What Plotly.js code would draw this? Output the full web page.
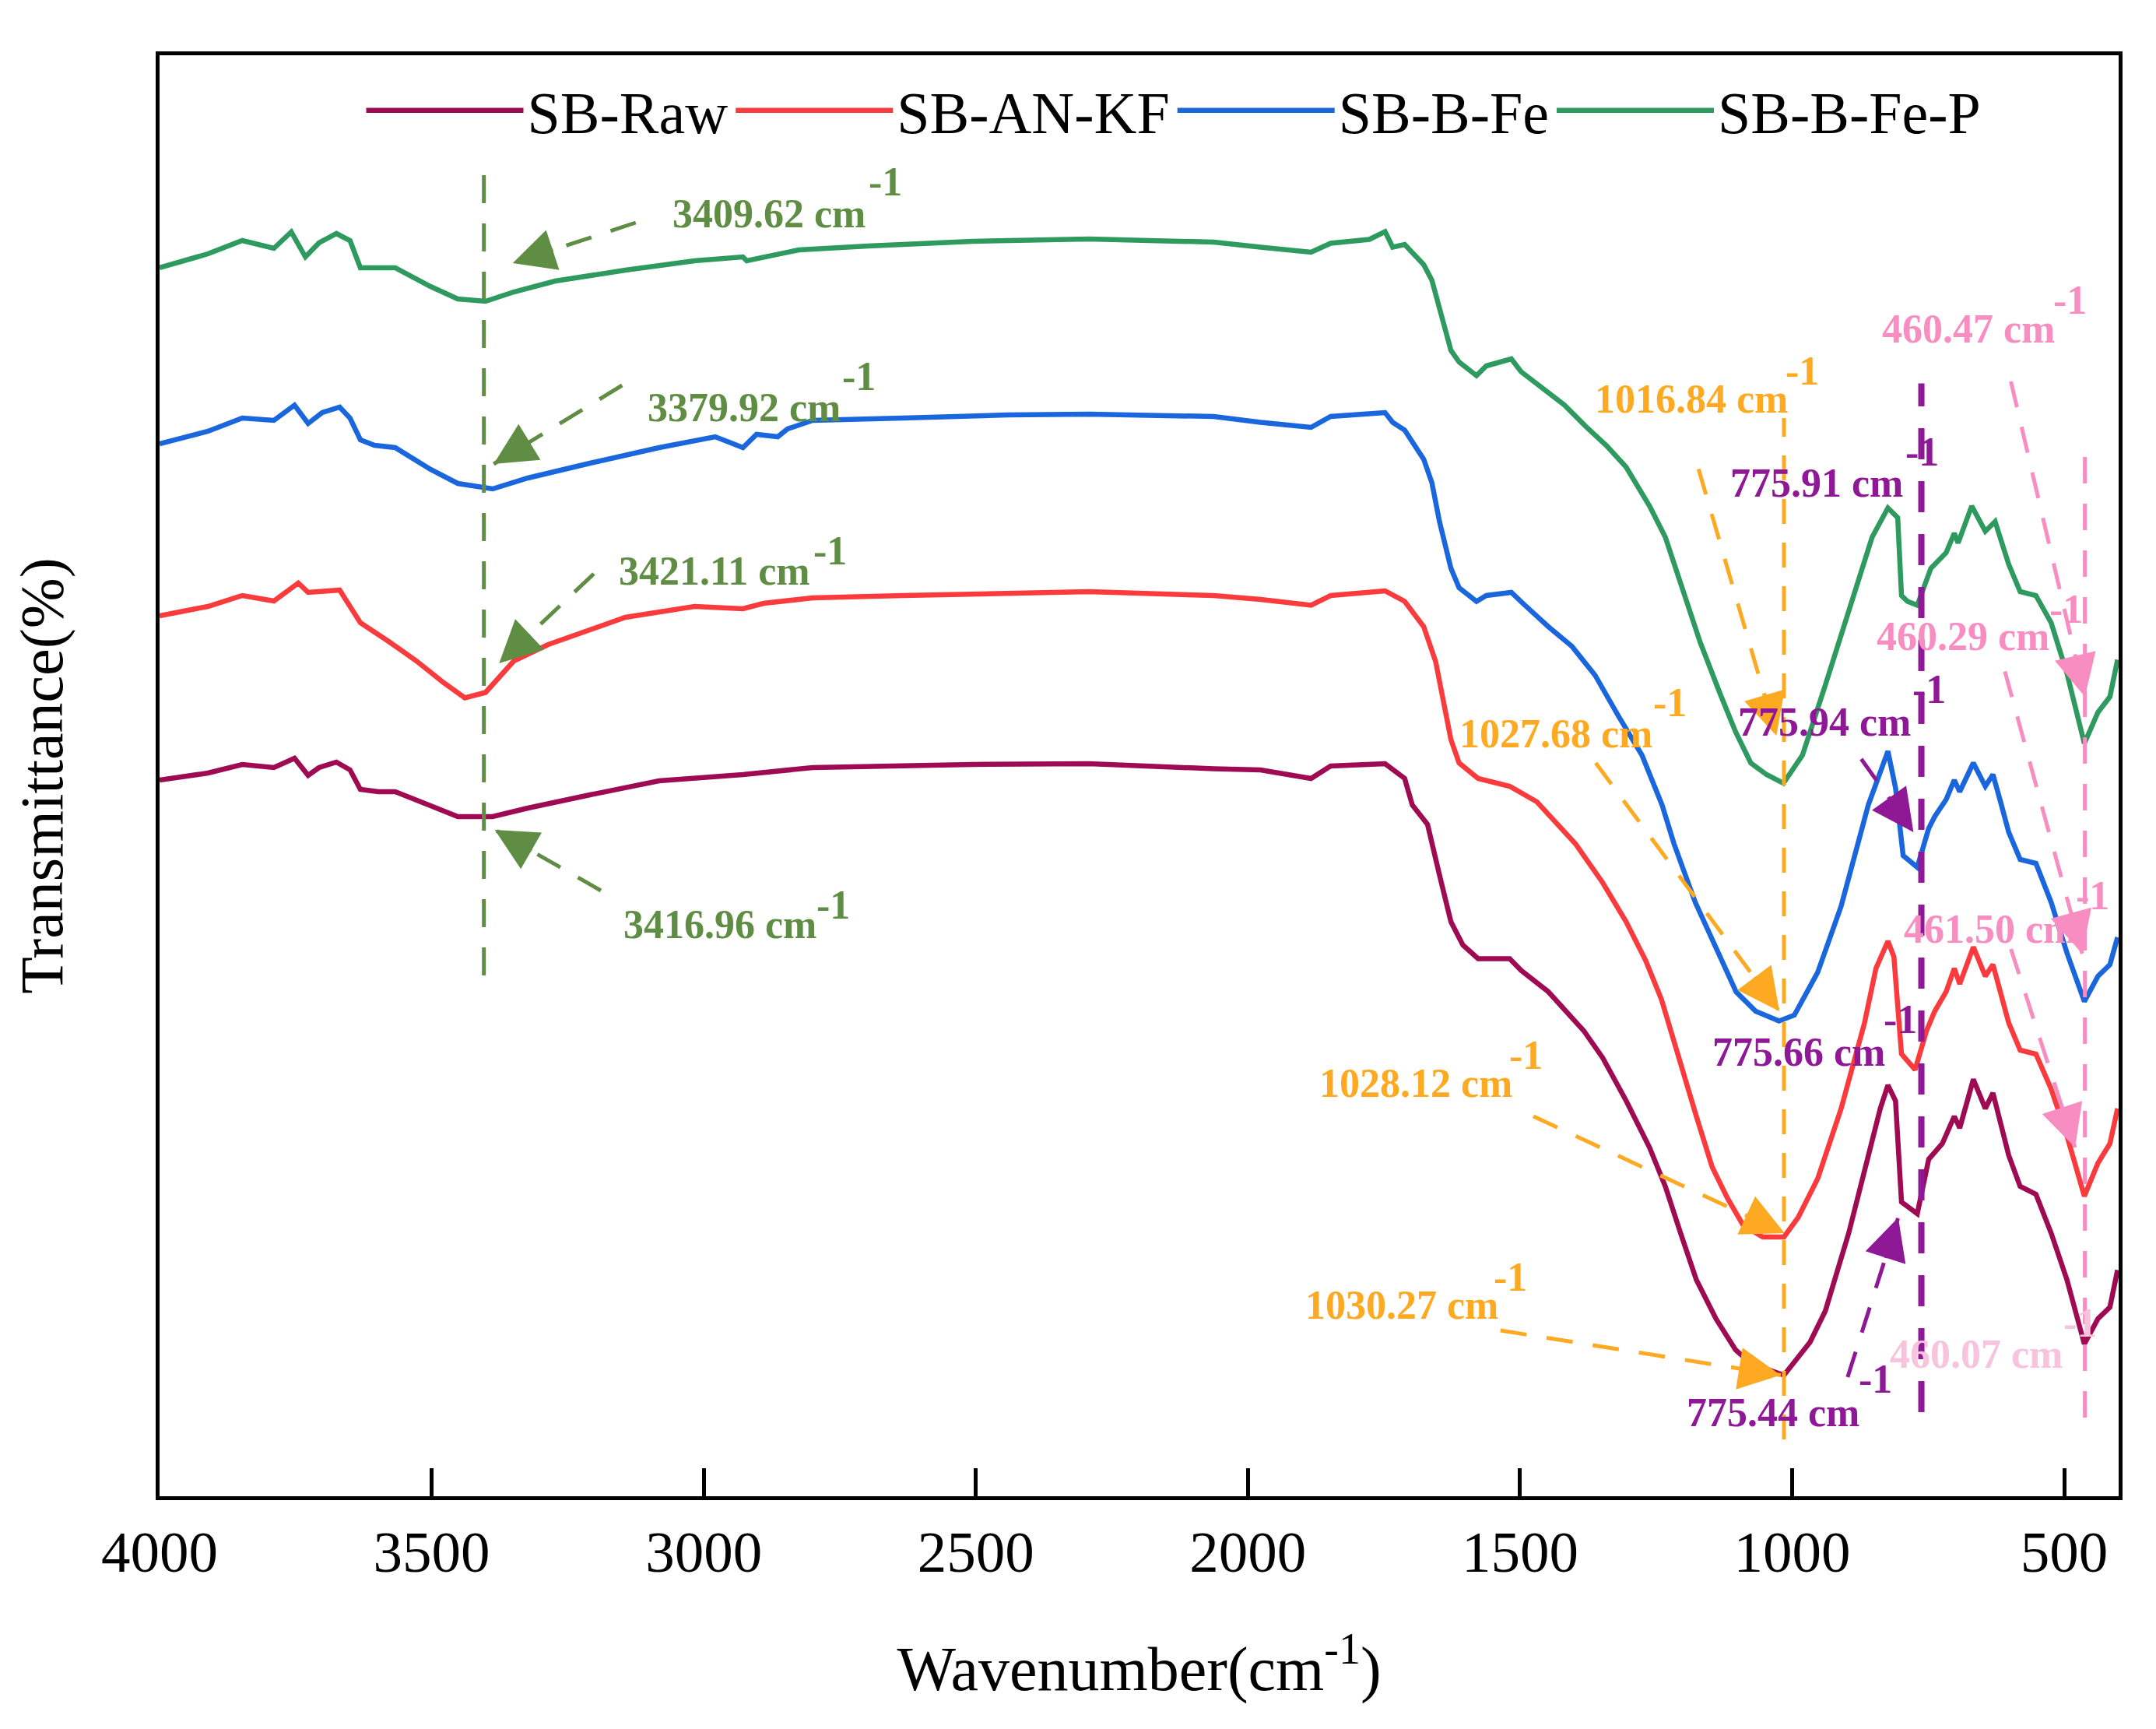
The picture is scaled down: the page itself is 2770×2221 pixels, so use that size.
<!DOCTYPE html>
<html><head><meta charset="utf-8">
<script src="https://cdn.plot.ly/plotly-3.0.1.min.js"></script>
<style>html,body{margin:0;padding:0;background:#fff;}#chart{width:2770px;height:2221px;}</style>
</head><body><div id="chart"></div>
<script>
// ---------------- DATA ----------------
const seriesNames = ['SB-Raw', 'SB-AN-KF', 'SB-B-Fe', 'SB-B-Fe-P'];
const xTicks = [4000, 3500, 3000, 2500, 2000, 1500, 1000, 500];

const rawWn = [4000,3911,3848,3790,3752,3727,3707,3675,3650,3631,3598,3567,3502,3452,3388,3323,3209,3082,2928,2800,2506,2292,2063,1977,1884,1848,1748,1712,1698,1670,1648,1627,1605,1577,1519,1498,1448,1383,1348,1305,1262,1233,1205,1176,1140,1104,1076,1015,967,939,896,860,838,824,810,799,770,749,724,702,692,667,645,631,602,581,552,524,495,463,438,416,402];
const rawT  = [92.0,92.9,94.0,93.6,94.8,92.6,93.6,94.3,93.3,90.8,90.5,90.5,88.7,87.3,87.3,88.4,90.1,91.9,92.7,93.6,94.0,94.1,93.45,93.3,92.2,93.8,94.1,92.2,88.8,86.3,79.8,73.8,70.8,69.05,69.05,67.55,64.8,59.8,56.3,50.8,44.8,39.8,33.8,27.8,22.8,18.8,17.05,15.55,19.8,23.8,33.8,43.8,49.8,52.8,50.8,37.8,36.3,43.3,45.3,48.8,47.3,53.55,49.8,51.8,43.8,39.8,38.8,33.8,27.8,19.55,22.8,24.3,29.05];

const ankfWn = [4000,3911,3848,3790,3745,3727,3669,3650,3631,3579,3528,3478,3439,3401,3349,3286,3144,3017,2928,2890,2800,2634,2292,2063,1977,1884,1848,1748,1712,1677,1655,1641,1627,1612,1577,1519,1469,1398,1348,1305,1269,1240,1219,1197,1176,1147,1119,1090,1054,1015,989,953,910,867,846,824,813,799,774,753,738,717,702,692,667,645,631,602,581,552,524,495,463,438,416,402];
const ankfT  = [113.1,114.3,115.7,115.0,117.3,116.1,116.4,114.3,112.2,109.8,107.3,104.5,102.55,103.25,107.3,109.4,112.9,114.3,114.0,114.7,115.4,115.7,116.2,115.7,115.2,114.45,115.7,116.3,114.95,111.7,107.2,102.2,97.2,94.2,92.2,91.2,89.2,83.8,78.8,73.8,68.8,63.8,58.8,53.8,48.8,42.3,38.3,34.8,33.3,33.3,35.8,40.8,49.8,60.8,67.8,71.3,69.3,56.8,54.8,59.8,62.3,64.8,67.8,65.8,70.55,66.8,68.3,60.8,57.3,56.8,52.3,46.3,38.55,42.8,45.3,49.8];

const bfeWn = [4000,3911,3848,3790,3752,3727,3701,3669,3650,3631,3605,3567,3502,3452,3388,3323,3209,3082,2979,2928,2903,2864,2846,2800,2634,2442,2292,2063,1977,1884,1848,1770,1748,1734,1712,1677,1662,1648,1627,1612,1580,1562,1516,1491,1448,1405,1362,1319,1276,1239,1217,1178,1146,1103,1067,1024,996,953,910,874,860,824,810,796,770,749,738,717,702,692,667,645,631,617,602,581,552,524,495,463,438,416,402];
const bfeT  = [135.2,136.8,138.5,138.2,140.15,137.8,139.2,139.9,138.5,135.7,135.0,134.7,131.9,130.1,129.4,130.8,132.7,134.7,136.1,134.7,136.4,136.1,137.1,138.2,138.5,138.9,139.0,138.7,137.95,137.3,138.7,139.2,139.2,137.95,136.95,133.2,130.2,125.2,119.2,116.7,114.95,115.7,116.1,114.45,111.7,109.2,105.45,100.2,95.2,88.8,83.8,76.3,71.3,64.8,62.3,61.05,61.8,67.3,75.8,84.8,88.8,95.7,91.0,82.3,80.8,85.8,87.3,89.5,92.0,90.5,94.2,91.2,92.7,89.2,85.3,81.8,81.3,76.3,69.8,63.55,66.8,68.3,71.8];

const bfepWn = [4000,3911,3848,3790,3758,3732,3707,3675,3650,3631,3598,3567,3502,3452,3401,3349,3273,3144,3017,2928,2921,2825,2698,2506,2292,2063,1977,1884,1848,1777,1748,1734,1712,1677,1662,1648,1627,1612,1580,1562,1516,1498,1455,1419,1376,1341,1305,1262,1233,1205,1169,1133,1104,1076,1047,1016,981,939,888,853,824,806,799,788,770,745,717,702,695,670,645,627,602,581,552,524,495,463,438,416,402];
const bfepT  = [157.8,159.6,161.3,160.3,162.4,159.2,161.0,162.2,161.3,157.8,157.8,157.8,155.4,153.8,153.5,154.7,156.1,157.5,158.7,159.2,158.7,160.1,160.6,161.2,161.5,161.1,160.45,159.8,160.95,161.45,162.45,160.45,160.8,158.2,156.2,152.7,147.2,145.7,143.95,145.2,146.1,144.45,142.2,140.2,137.2,134.95,132.2,127.2,123.2,117.2,109.7,103.2,98.2,94.2,92.7,91.6,95.2,104.2,115.7,123.2,126.95,125.7,115.7,114.95,114.45,119.2,121.2,123.7,122.45,127.2,123.95,125.2,119.7,116.2,115.7,112.2,105.7,96.7,100.7,102.7,107.45];

// peak labels (order: SB-B-Fe-P, SB-B-Fe, SB-AN-KF, SB-Raw)
const ohPeaks  = [3409.62, 3379.92, 3421.11, 3416.96];
const coPeaks  = [1016.84, 1027.68, 1028.12, 1030.27];
const fePeaks  = [775.91, 775.94, 775.66, 775.44];
const mPeaks   = [460.47, 460.29, 461.50, 460.07];

// ---------------- STYLE / LAYOUT ----------------
const FONT = 'Liberation Serif, Times New Roman, serif';
const lineColors = ['#9E0B52', '#F93B3E', '#1A66DD', '#2E9A5F'];
const cGreen = '#5F8D43', cOrange = '#FDAA22', cPurple = '#8E1896', cPink = '#F78DC0', cPinkLight = '#F8C3DC';

const traces = [
  [rawWn, rawT], [ankfWn, ankfT], [bfeWn, bfeT], [bfepWn, bfepT]
].map((s, i) => ({
  x: s[0], y: s[1], type: 'scatter', mode: 'lines', name: seriesNames[i],
  line: {color: lineColors[i], width: 6.5}
}));

// vertical reference lines
const vlines = [
  {x: 3404, y0: 66.9, y1: 170.5, color: cGreen, width: 5, dash: '36px,26px'},
  {x: 1015, y0: 7.3, y1: 138.5, color: cOrange, width: 5, dash: '32px,24px'},
  {x: 762.5, y0: 10.8, y1: 142.95, color: cPurple, width: 8, dash: '40px,28px'},
  {x: 462, y0: 10.1, y1: 134.7, color: cPink, width: 5, dash: '34px,26px'}
];

// dashed arrows: tail -> tip (data coords)
const arrows = [
  {tail: [3125, 163.6], tip: [3351, 158.4], color: cGreen},
  {tail: [3150, 142.7], tip: [3386, 132.6], color: cGreen},
  {tail: [3202, 118.5], tip: [3376, 107.0], color: cGreen},
  {tail: [3189, 77.8],  tip: [3384, 85.6],  color: cGreen},
  {tail: [1172, 131.95], tip: [1029, 97.7], color: cOrange},
  {tail: [1361, 94.2], tip: [1023.5, 62.3], color: cOrange},
  {tail: [1475.5, 48.8], tip: [1014, 33.8], color: cOrange},
  {tail: [1536, 21.3], tip: [1021, 15.55], color: cOrange},
  {tail: [873, 94.7], tip: [777, 85.3], color: cPurple},
  {tail: [898, 15.3], tip: [805, 35.8], color: cPurple},
  {tail: [598, 143.2], tip: [462, 102.7], color: cPink},
  {tail: [609, 105.95], tip: [467, 69.7], color: cPink},
  {tail: [598, 70.3], tip: [480, 44.8], color: cPink}
];

// label positions: [text left x, text center y, sup left x, sup center y]
const labelPos = [
  {v: ohPeaks[0], p: [3060, 164.8, 2700, 168.9], color: cGreen},
  {v: ohPeaks[1], p: [3106, 139.9, 2748.5, 143.9], color: cGreen},
  {v: ohPeaks[2], p: [3159, 118.9, 2801, 121.5], color: cGreen},
  {v: ohPeaks[3], p: [3150, 73.5, 2796, 76.0], color: cGreen},
  {v: coPeaks[0], p: [1365, 140.95, 1015, 144.6], color: cOrange},
  {v: coPeaks[1], p: [1615, 97.95, 1258, 102.0], color: cOrange},
  {v: coPeaks[2], p: [1872, 53.05, 1523, 56.7], color: cOrange},
  {v: coPeaks[3], p: [1897.5, 24.55, 1551, 28.2], color: cOrange},
  {v: fePeaks[0], p: [1116.5, 130.2, 795, 134.2], color: cPurple},
  {v: fePeaks[1], p: [1102, 99.45, 782, 103.7], color: cPurple},
  {v: fePeaks[2], p: [1149, 57.05, 835, 61.3], color: cPurple},
  {v: fePeaks[3], p: [1197, 10.8, 880.5, 15.1], color: cPurple},
  {v: mPeaks[0], p: [837.6, 149.95, 523, 153.7], color: cPink},
  {v: mPeaks[1], p: [848, 110.45, 530, 114.0], color: cPink},
  {v: mPeaks[2], p: [798, 72.9, 481.5, 77.2], color: cPink},
  {v: mPeaks[3], p: [823, 18.3, 505, 22.3], color: cPinkLight}
];

const X0 = 4000, X1 = 400, Y0 = 0, Y1 = 185.1;
const M = {l: 205, r: 48, t: 71, b: 299};
const W = 2770, H = 2221;
const pxX = (W - M.l - M.r) / (X0 - X1);
const pxY = (H - M.t - M.b) / (Y1 - Y0);

const shapes = [];
vlines.forEach(v => shapes.push({type: 'line', xref: 'x', yref: 'y', x0: v.x, x1: v.x, y0: v.y0, y1: v.y1,
  line: {color: v.color, width: v.width, dash: v.dash}}));
arrows.forEach(a => shapes.push({type: 'line', xref: 'x', yref: 'y', x0: a.tail[0], y0: a.tail[1], x1: a.tip[0], y1: a.tip[1],
  line: {color: a.color, width: 5, dash: '34px,26px'}}));

const annotations = [];
arrows.forEach(a => {
  const dx = -(a.tail[0] - a.tip[0]) * pxX;
  const dy = -(a.tail[1] - a.tip[1]) * pxY;
  const len = Math.hypot(dx, dy);
  const L = 56;
  annotations.push({x: a.tip[0], y: a.tip[1], xref: 'x', yref: 'y', text: '', showarrow: true,
    arrowhead: 2, arrowsize: 2.4, arrowwidth: 4.5, arrowcolor: a.color, standoff: 0,
    ax: dx / len * L, ay: dy / len * L});
});
labelPos.forEach(l => {
  const f = {family: FONT, size: 52, color: l.color, weight: 'bold'};
  annotations.push({x: l.p[0], y: l.p[1], xref: 'x', yref: 'y', xanchor: 'left', yanchor: 'middle',
    text: l.v.toFixed(2) + ' cm', showarrow: false, font: f});
  annotations.push({x: l.p[2], y: l.p[3], xref: 'x', yref: 'y', xanchor: 'left', yanchor: 'middle',
    text: '-1', showarrow: false, font: f});
});

const layout = {
  width: W, height: H,
  margin: M,
  paper_bgcolor: '#ffffff', plot_bgcolor: '#ffffff',
  font: {family: FONT, color: '#000'},
  showlegend: true,
  legend: {orientation: 'h', x: 0.1035, xanchor: 'left', y: 0.9617, yanchor: 'middle',
    font: {family: FONT, size: 76, color: '#000'}, itemwidth: 202, bgcolor: 'rgba(0,0,0,0)',
    traceorder: 'normal'},
  xaxis: {
    range: [X0, X1], tickmode: 'array', tickvals: xTicks, ticktext: xTicks.map(String),
    ticks: 'inside', ticklen: 36, tickwidth: 5, tickcolor: '#000',
    showline: true, linewidth: 5, linecolor: '#000', mirror: true,
    showgrid: false, zeroline: false,
    tickfont: {family: FONT, size: 75, color: '#000'}, ticklabelstandoff: 2,
    title: {text: 'Wavenumber(cm<sup>-1</sup>)', font: {family: FONT, size: 80, color: '#000'}, standoff: 82}
  },
  yaxis: {
    range: [Y0, Y1], showticklabels: false, ticks: '',
    showline: true, linewidth: 5, linecolor: '#000', mirror: true,
    showgrid: false, zeroline: false,
    title: {text: 'Transmittance(%)', font: {family: FONT, size: 78, color: '#000'}, standoff: 95}
  },
  shapes: shapes,
  annotations: annotations
};

Plotly.newPlot('chart', traces, layout, {staticPlot: true, displayModeBar: false});
</script>
</body></html>
